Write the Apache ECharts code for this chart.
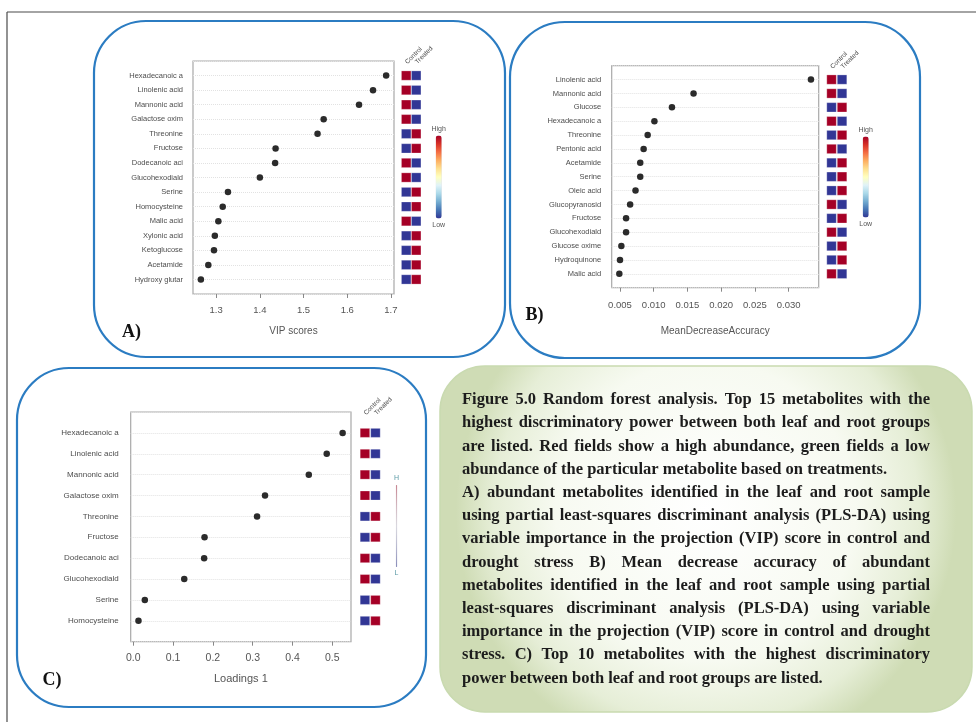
<!DOCTYPE html>
<html>
<head>
<meta charset="utf-8">
<script src="https://cdn.jsdelivr.net/npm/echarts@6/dist/echarts.min.js"></script>
<style>
html,body{margin:0;padding:0;background:#fff;}
#c{width:976px;height:722px;}
</style>
</head>
<body>
<div id="c"></div>
<script>
// ---------------- DATA ----------------
const catsA = ['Hexadecanoic a','Linolenic acid','Mannonic acid','Galactose oxim','Threonine','Fructose','Dodecanoic aci','Glucohexodiald','Serine','Homocysteine','Malic acid','Xylonic acid','Ketoglucose','Acetamide','Hydroxy glutar'];
const vipA = [1.689,1.659,1.627,1.546,1.532,1.436,1.435,1.400,1.327,1.315,1.305,1.297,1.295,1.282,1.265];
const ctrlA = [1,1,1,1,0,0,1,1,0,0,1,0,0,0,0];
const trtA  = [0,0,0,0,1,1,0,0,1,1,0,1,1,1,1];
const ticksA = [1.3,1.4,1.5,1.6,1.7];

const catsB = ['Linolenic acid','Mannonic acid','Glucose','Hexadecanoic a','Threonine','Pentonic acid','Acetamide','Serine','Oleic acid','Glucopyranosid','Fructose','Glucohexodiald','Glucose oxime','Hydroquinone','Malic acid'];
const mdaB = [0.0333,0.0159,0.0127,0.0101,0.0091,0.0085,0.0080,0.0080,0.0073,0.0065,0.0059,0.0059,0.0052,0.0050,0.0049];
const ctrlB = [1,1,0,1,0,1,0,0,0,1,0,1,0,0,1];
const trtB  = [0,0,1,0,1,0,1,1,1,0,1,0,1,1,0];
const ticksB = [0.005,0.010,0.015,0.020,0.025,0.030];

const catsC = ['Hexadecanoic a','Linolenic acid','Mannonic acid','Galactose oxim','Threonine','Fructose','Dodecanoic aci','Glucohexodiald','Serine','Homocysteine'];
const loadC = [0.526,0.486,0.441,0.331,0.311,0.179,0.178,0.128,0.029,0.013];
const ctrlC = [1,1,1,1,0,0,1,1,0,0];
const trtC  = [0,0,0,0,1,1,0,0,1,1];
const ticksC = [0.0,0.1,0.2,0.3,0.4,0.5];

const groups = ['Control','Treated'];

const captionLines = [
 'Figure 5.0 Random forest analysis. Top 15 metabolites with the',
 'highest discriminatory power between both leaf and root groups',
 'are listed. Red fields show a high abundance, green fields a low',
 'abundance of the particular metabolite based on treatments.',
 'A) abundant metabolites identified in the leaf and root sample',
 'using partial least-squares discriminant analysis (PLS-DA) using',
 'variable importance in the projection (VIP) score in control and',
 'drought stress B) Mean decrease accuracy of abundant',
 'metabolites identified in the leaf and root sample using partial',
 'least-squares discriminant analysis (PLS-DA) using variable',
 'importance in the projection (VIP) score in control and drought',
 'stress. C) Top 10 metabolites with the highest discriminatory',
 'power between both leaf and root groups are listed.'
];
const paragraphEnds = [3, 12];

// ---------------- STYLE / LAYOUT ----------------
const SANS = '"Liberation Sans", Arial, sans-serif';
const SERIF = '"Liberation Serif", "Times New Roman", serif';
const RDYLBU = ['#313695','#4575b4','#74add1','#abd9e9','#e0f3f8','#ffffbf','#fee090','#fdae61','#f46d43','#d73027','#a50026'];

const panels = [
  {cats: catsA, vals: vipA, ctrl: ctrlA, trt: trtA, ticks: ticksA, dec: 1, min: 1.247, max: 1.707,
   grid: {left:193, top:61, width:201, height:233}, heat: {left:401.2, width:20},
   name: 'VIP scores', nameGap: 32, labelMargin: 11, catFont: 7.5, tickFont: 9.5, catMargin: 10,
   vm: {left: 416.5, top: 110.5, itemWidth: 6, itemHeight: 83, text: ['High','Low'], faint: false}},
  {cats: catsB, vals: mdaB, ctrl: ctrlB, trt: trtB, ticks: ticksB, dec: 3, min: 0.00377, max: 0.03445,
   grid: {left:611.7, top:65.7, width:207, height:222}, heat: {left:826.3, width:21},
   name: 'MeanDecreaseAccuracy', nameGap: 39, labelMargin: 13, catFont: 7.5, tickFont: 9.5, catMargin: 10.5,
   vm: {left: 843.5, top: 111.5, itemWidth: 6, itemHeight: 81, text: ['High','Low'], faint: false}},
  {cats: catsC, vals: loadC, ctrl: ctrlC, trt: trtC, ticks: ticksC, dec: 1, min: -0.0065, max: 0.547,
   grid: {left:130.7, top:412, width:220.3, height:229.7}, heat: {left:359.7, width:21},
   name: 'Loadings 1', nameGap: 32, labelMargin: 11, catFont: 8, tickFont: 10.5, catMargin: 12,
   vm: {left: 379, top: 460, itemWidth: 1.5, itemHeight: 82, text: ['H','L'], faint: true}}
];

const grid = [], xAxis = [], yAxis = [], series = [], visualMap = [];
panels.forEach((p, k) => {
  const yCats = [' '].concat(p.cats).concat(['  ']);
  grid.push(Object.assign({show: true, borderColor: '#a8a8a8', borderWidth: 1.2, backgroundColor: '#fff'}, p.grid));
  grid.push({left: p.heat.left, width: p.heat.width, top: p.grid.top, height: p.grid.height});
  const gi = k * 2;
  xAxis.push({
    type: 'value', gridIndex: gi, min: p.min, max: p.max,
    splitLine: {show: false}, axisLine: {show: false},
    axisTick: {show: true, length: 4, lineStyle: {color: '#888'}, customValues: p.ticks},
    axisLabel: {customValues: p.ticks, color: '#555', fontSize: p.tickFont, fontFamily: SANS, margin: p.labelMargin,
      formatter: v => Number(v).toFixed(p.dec)},
    name: p.name, nameLocation: 'middle', nameGap: p.nameGap,
    nameTextStyle: {color: '#555', fontSize: p.tickFont + 0.5, fontFamily: SANS}
  });
  xAxis.push({
    type: 'category', gridIndex: gi + 1, data: groups, position: 'top',
    axisLine: {show: false}, axisTick: {show: false},
    axisLabel: {rotate: -45, align: 'left', verticalAlign: 'middle', fontSize: 6.5, color: '#444',
      fontFamily: SANS, margin: -2, interval: 0}
  });
  yAxis.push({
    type: 'category', gridIndex: gi, data: yCats, boundaryGap: false, inverse: true,
    axisLine: {show: false}, axisTick: {show: false},
    axisLabel: {color: '#4d4d4d', fontSize: p.catFont, fontFamily: SANS, margin: p.catMargin, interval: 0},
    splitLine: {show: true, interval: 0, lineStyle: {color: '#e2e2e2', type: 'dotted', width: 1}}
  });
  yAxis.push({
    type: 'category', gridIndex: gi + 1, data: yCats, boundaryGap: false, inverse: true, show: false
  });
  series.push({
    type: 'scatter', xAxisIndex: gi, yAxisIndex: gi, symbolSize: 6.5,
    itemStyle: {color: '#2b2b2b', opacity: 1},
    data: p.vals.map((v, i) => [v, i + 1]), silent: true, z: 3
  });
  const hd = [];
  p.cats.forEach((c, i) => { hd.push([0, i + 1, p.ctrl[i]]); hd.push([1, i + 1, p.trt[i]]); });
  series.push({
    type: 'scatter', xAxisIndex: gi + 1, yAxisIndex: gi + 1, symbol: 'rect',
    symbolSize: k === 2 ? [9.5, 9] : [9.5, 9.3], data: hd, silent: true,
    itemStyle: {opacity: 1, borderColor: 'rgba(255,255,255,0.5)', borderWidth: 0.5}
  });
  const vmo = {
    type: 'continuous', min: 0, max: 1, dimension: 2, seriesIndex: gi + 1,
    orient: 'vertical', left: p.vm.left, top: p.vm.top,
    itemWidth: p.vm.itemWidth, itemHeight: p.vm.itemHeight, text: p.vm.text, textGap: 3,
    calculable: false, hoverLink: false, realtime: false,
    textStyle: {color: p.vm.faint ? '#5b9aa6' : '#555', fontSize: 7, fontFamily: SANS},
    inRange: {color: RDYLBU}
  };
  if (p.vm.faint) {
    vmo.controller = {inRange: {color: ['rgba(49,54,149,0.45)', 'rgba(240,230,240,0.3)', 'rgba(190,40,60,0.45)']}};
  }
  visualMap.push(vmo);
});

// ---------------- GRAPHICS (frames, panel letters, caption) ----------------
const BLUE = '#2b7cc2';
const graphic = [
  {type: 'line', shape: {x1: 7, y1: 12, x2: 976, y2: 12}, style: {stroke: '#4a4a4a', lineWidth: 1.2}, z: 0},
  {type: 'line', shape: {x1: 7, y1: 12, x2: 7, y2: 722}, style: {stroke: '#4a4a4a', lineWidth: 1.2}, z: 0},
  {type: 'rect', shape: {x: 94, y: 21, width: 411, height: 336, r: 52}, style: {fill: 'none', stroke: BLUE, lineWidth: 2.2}, z: -1},
  {type: 'rect', shape: {x: 510, y: 22, width: 410, height: 336, r: 55}, style: {fill: 'none', stroke: BLUE, lineWidth: 2.2}, z: -1},
  {type: 'rect', shape: {x: 17, y: 368, width: 409, height: 339, r: 52}, style: {fill: 'none', stroke: BLUE, lineWidth: 2.2}, z: -1},
  {type: 'rect', shape: {x: 440, y: 366, width: 532, height: 346, r: 45},
   style: {fill: new echarts.graphic.RadialGradient(0.5, 0.42, 0.72, [
       {offset: 0, color: '#ffffff'}, {offset: 0.6, color: '#f7faf1'}, {offset: 0.85, color: '#e6eed7'}, {offset: 1, color: '#cfdcb5'}]),
     stroke: '#c9dab0', lineWidth: 1.5}, z: -1},
  {type: 'text', x: 122, y: 332.5, style: {text: 'A)', fontSize: 18, fontWeight: 'bold', fontFamily: SERIF, fill: '#111', verticalAlign: 'middle'}},
  {type: 'text', x: 525.5, y: 315, style: {text: 'B)', fontSize: 18, fontWeight: 'bold', fontFamily: SERIF, fill: '#111', verticalAlign: 'middle'}},
  {type: 'text', x: 42.5, y: 680.5, style: {text: 'C)', fontSize: 18, fontWeight: 'bold', fontFamily: SERIF, fill: '#111', verticalAlign: 'middle'}}
];

// justified caption
const CAP_X = 462, CAP_W = 468, CAP_Y0 = 400, CAP_LH = 23.2, CAP_FS = 16.5;
const ctx = document.createElement('canvas').getContext('2d');
ctx.font = 'bold ' + CAP_FS + 'px ' + SERIF;
const spaceW = ctx.measureText(' ').width;
captionLines.forEach((line, li) => {
  const words = line.split(' ');
  const widths = words.map(w => ctx.measureText(w).width);
  const total = widths.reduce((a, b) => a + b, 0);
  let gap = spaceW;
  if (paragraphEnds.indexOf(li) < 0 && words.length > 1) gap = (CAP_W - total) / (words.length - 1);
  let x = CAP_X;
  words.forEach((w, wi) => {
    graphic.push({type: 'text', x: x, y: CAP_Y0 + li * CAP_LH,
      style: {text: w, fontSize: CAP_FS, fontWeight: 'bold', fontFamily: SERIF, fill: '#1c1c1c', verticalAlign: 'middle'}});
    x += widths[wi] + gap;
  });
});

const chart = echarts.init(document.getElementById('c'), null, {renderer: 'canvas', width: 976, height: 722});
chart.setOption({
  backgroundColor: '#ffffff',
  animation: false,
  grid, xAxis, yAxis, series, visualMap, graphic
});
</script>
</body>
</html>
